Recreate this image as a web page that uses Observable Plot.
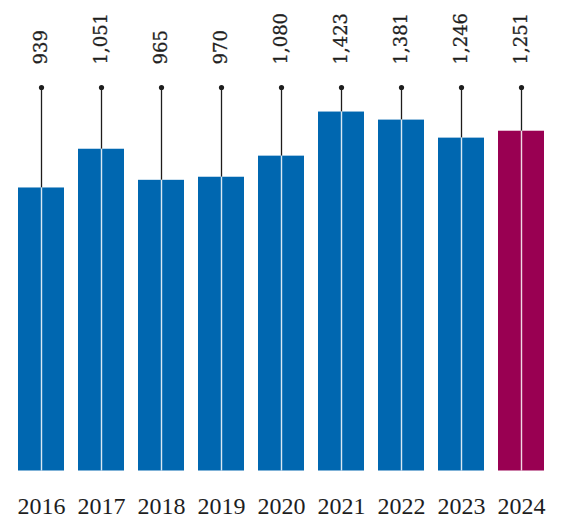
<!DOCTYPE html>
<html>
<head>
<meta charset="utf-8">
<script src="https://cdn.jsdelivr.net/npm/d3@7"></script>
<script src="https://cdn.jsdelivr.net/npm/@observablehq/plot@0.6"></script>
<style>
  html, body { margin: 0; padding: 0; background: #fff; }
  #chart svg g.values text { font-family: "DejaVu Serif", serif; }
  #chart svg g[aria-label="x-axis tick label"] text,
  #chart svg g[aria-label="x-axis tick label"] { font-family: "Liberation Serif", "Times New Roman", serif; }
</style>
</head>
<body>
<div id="chart"></div>
<script>
// Years shown along the bottom
const years = ["2016", "2017", "2018", "2019", "2020", "2021", "2022", "2023", "2024"];
// Totals written above each pin
const totals = [939, 1051, 965, 970, 1080, 1423, 1381, 1246, 1251];
// Bar values (index, 0–100 scale)
const barValues = [73.8, 83.9, 75.8, 76.6, 82.1, 93.6, 91.5, 86.8, 88.6];
// Latest year gets the accent colour
const highlightYear = "2024";
// Top of the index scale, where the pins end
const scaleTop = 100;

const blue = "#0067b0";
const accent = "#990052";
const ink = "#1e1e1e";

const data = years.map((year, i) => ({ year, total: totals[i], value: barValues[i] }));
const fmt = d3.format(",");

const chart = Plot.plot({
  width: 564,
  height: 522,
  marginTop: 87,
  marginBottom: 51.5,
  marginLeft: 4,
  marginRight: 6,
  style: { fontFamily: "'DejaVu Serif', serif", background: "#fff", color: ink, overflow: "visible" },
  x: { domain: years, padding: 0.233, axis: null },
  y: { domain: [0, scaleTop], axis: null },
  marks: [
    Plot.barY(data, {
      x: "year",
      y: "value",
      fill: d => d.year === highlightYear ? accent : blue
    }),
    // pin above the bar
    Plot.ruleX(data, { x: "year", y1: "value", y2: scaleTop, stroke: ink, strokeWidth: 1.3 }),
    // the pin continues as a thin white line through the bar
    Plot.ruleX(data, { x: "year", y1: 0, y2: "value", stroke: "#ffffff", strokeWidth: 1.4, strokeOpacity: 0.85 }),
    Plot.dot(data, { x: "year", y: scaleTop, r: 2.6, fill: ink, stroke: null }),
    Plot.text(data, {
      x: "year",
      y: scaleTop,
      text: d => fmt(d.total),
      rotate: -90,
      textAnchor: "start",
      lineAnchor: "middle",
      dy: -23,
      fontSize: 18,
      fill: ink,
      stroke: ink,
      strokeWidth: 0.3,
      className: "values"
    }),
    Plot.axisX({
      tickSize: 0,
      tickPadding: 26,
      fontSize: 24,
      fill: ink,
      stroke: ink,
      strokeWidth: 0.4,
      label: null
    })
  ]
});

document.getElementById("chart").appendChild(chart);
</script>
</body>
</html>
